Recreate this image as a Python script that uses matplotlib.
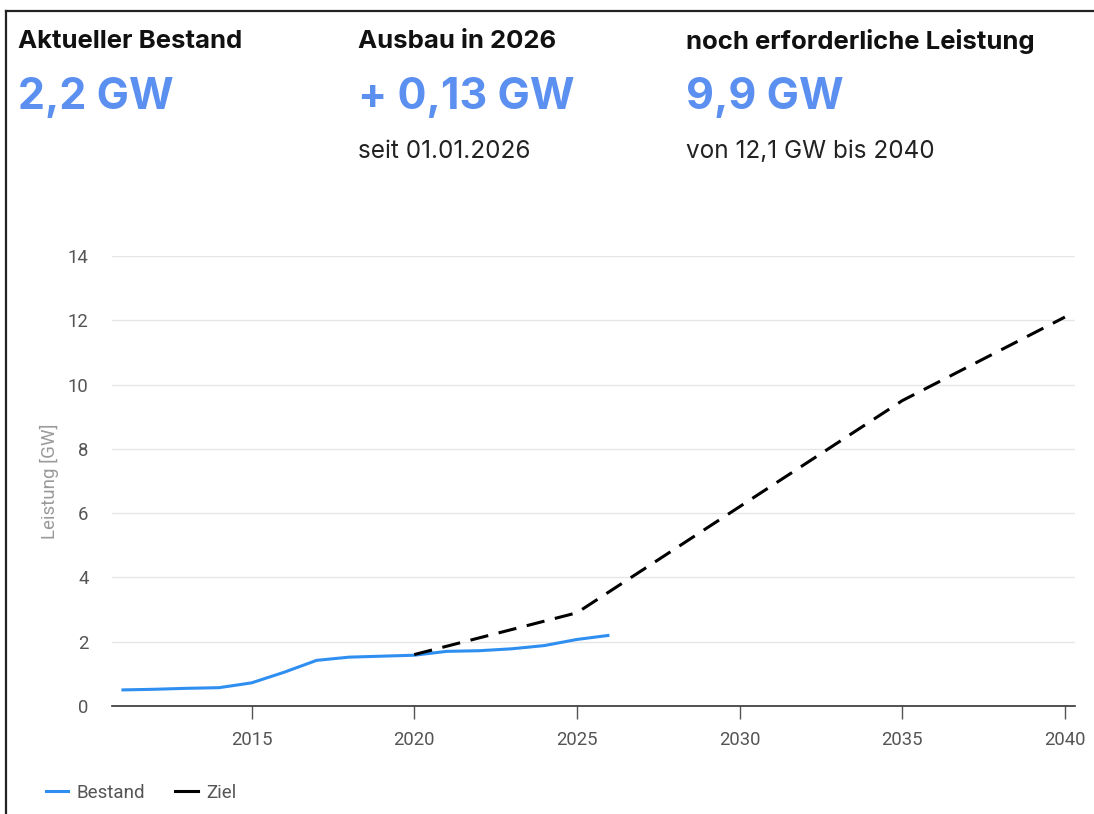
import matplotlib
matplotlib.use("Agg")
import matplotlib.pyplot as plt
from matplotlib.lines import Line2D

# data
bestand_years = [2011, 2012, 2013, 2014, 2015, 2016, 2017, 2018, 2019, 2020,
                 2021, 2022, 2023, 2024, 2025, 2026]
bestand_gw = [0.50, 0.52, 0.55, 0.57, 0.72, 1.05, 1.42, 1.52, 1.55, 1.58,
              1.70, 1.72, 1.78, 1.88, 2.07, 2.20]
ziel_years = [2020, 2025, 2030, 2035, 2040]
ziel_gw = [1.60, 2.90, 6.20, 9.50, 12.10]

x_ticks = [2015, 2020, 2025, 2030, 2035, 2040]
y_ticks = [0, 2, 4, 6, 8, 10, 12, 14]

kpi_titles = ["Aktueller Bestand", "Ausbau in 2026", "noch erforderliche Leistung"]
kpi_values = ["2,2 GW", "+ 0,13 GW", "9,9 GW"]
kpi_notes = ["", "seit 01.01.2026", "von 12,1 GW bis 2040"]

BLUE_LINE = "#2f8ff0"
BLUE_KPI = "#5b8ff0"
W, H = 1094, 814

fig = plt.figure(figsize=(W / 100, H / 100), dpi=100)
fig.patch.set_facecolor("white")

# frame lines (top + left) like the screenshot
fig.add_artist(Line2D([6 / W, 1], [1 - 10.5 / H, 1 - 10.5 / H], color="#222222", lw=1.6))
fig.add_artist(Line2D([6 / W, 6 / W], [0, 1 - 10.5 / H], color="#222222", lw=1.6))

# KPI header
kpi_x = [18, 358, 686]
for x, t, v, n in zip(kpi_x, kpi_titles, kpi_values, kpi_notes):
    fig.text(x / W, 1 - 41 / H, t, fontsize=18.5, fontweight="bold", family="Inter",
             color="#111111", va="center", ha="left")
    fig.text(x / W, 1 - 97 / H, v, fontsize=31, fontweight="bold", family="Inter",
             color=BLUE_KPI, va="center", ha="left")
    if n:
        fig.text(x / W, 1 - 151 / H, n, fontsize=17.5, family="Inter",
                 color="#222222", va="center", ha="left")

# chart area
ax = fig.add_axes([112 / W, 108 / H, (1075 - 112) / W, (706 - 256) / H])
ax.plot(bestand_years, bestand_gw, color=BLUE_LINE, lw=2.2, solid_capstyle="butt")
ax.plot(ziel_years, ziel_gw, color="black", lw=2.2, dashes=(6, 3.5))

ax.set_xlim(2010.71, 2040.31)
ax.set_ylim(0, 14)
ax.set_xticks(x_ticks)
ax.set_yticks(y_ticks)
ax.grid(axis="y", color="#e6e6e6", lw=1)
ax.set_axisbelow(True)
for s in ["top", "right", "left"]:
    ax.spines[s].set_visible(False)
ax.spines["bottom"].set_color("#333333")
ax.spines["bottom"].set_linewidth(1.2)
ax.tick_params(axis="x", length=9, width=1, color="#555555", labelcolor="#555555",
               labelsize=13.3, pad=9)
ax.tick_params(axis="y", length=0, labelcolor="#555555", labelsize=13.3, pad=17)
for lab in ax.get_xticklabels() + ax.get_yticklabels():
    lab.set_family("Roboto")
ax.set_ylabel("Leistung [GW]", color="#9a9a9a", fontsize=13.5, family="Roboto", labelpad=6)

# legend at bottom left
handles = [Line2D([], [], color=BLUE_LINE, lw=2.2),
           Line2D([], [], color="black", lw=2.2)]
leg = fig.legend(handles, ["Bestand", "Ziel"], loc="center left",
                 bbox_to_anchor=(29 / W, 1 - 793 / H), ncol=2, frameon=False,
                 handlelength=1.2, handletextpad=0.45, columnspacing=1.6,
                 prop={"family": "Roboto", "size": 13.5})
for t in leg.get_texts():
    t.set_color("#555555")

fig.savefig("out.png", dpi=100)
